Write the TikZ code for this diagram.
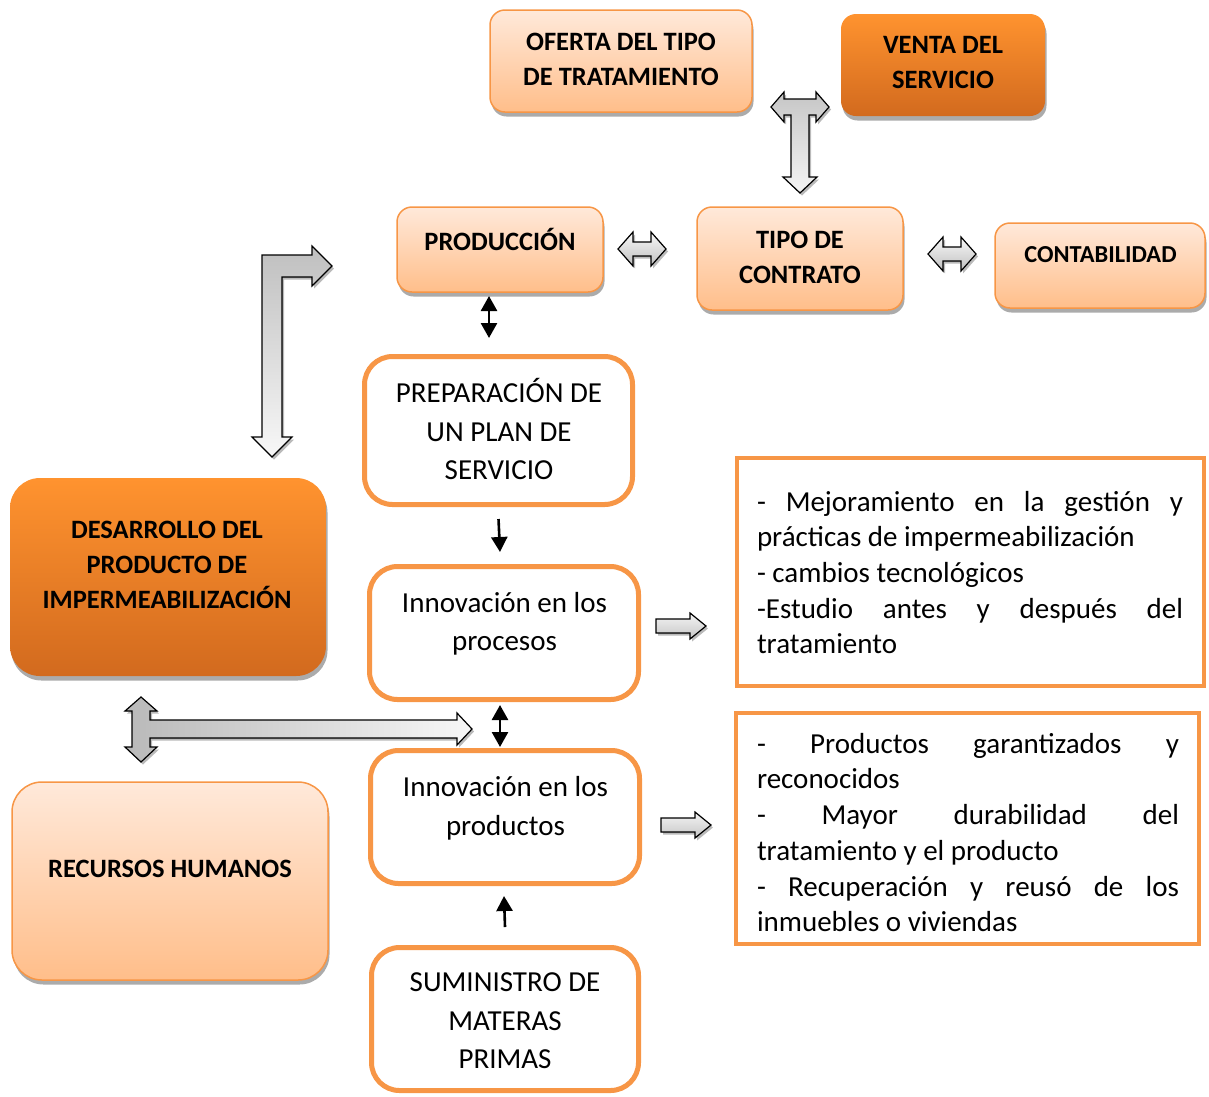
\documentclass[tikz,border=0pt]{standalone}
\usepackage{fontspec}
\setmainfont{Carlito}
\usetikzlibrary{shadows,arrows.meta}

\definecolor{orline}{HTML}{F79646}
\definecolor{ltop}{HTML}{FFE9DA}
\definecolor{lbot}{HTML}{FFBE8A}
\definecolor{dtop}{HTML}{FF932F}
\definecolor{dbot}{HTML}{D26A1E}

\tikzset{
  boxshadow/.style={drop shadow={shadow xshift=1.5pt,shadow yshift=-4.5pt,opacity=.55,fill=black!60}},
  lightbox/.style={draw=orline,line width=1.5pt,rounded corners=15pt,
    top color=ltop,bottom color=lbot,boxshadow,inner sep=0pt},
  darkbox/.style={draw=none,rounded corners=30pt,
    top color=dtop,bottom color=dbot,boxshadow,inner sep=0pt},
  lightbig/.style={lightbox,rounded corners=30pt},
  whitebox/.style={draw=orline,line width=5pt,rounded corners=28pt,fill=white,inner sep=0pt},
  listbox/.style={draw=orline,line width=4pt,fill=white,inner sep=0pt},
  btext/.style={font=\bfseries\fontsize{26.5}{35}\selectfont,align=center,inner sep=0pt},
  ntext/.style={font=\fontsize{29}{38.5}\selectfont,align=center,inner sep=0pt},
  jtext/.style={font={\fontsize{29}{35.7}\selectfont\parindent=0pt\tolerance=10000\hyphenpenalty=10000\exhyphenpenalty=10000},
    align=justify,inner sep=0pt},
  gblock/.style={draw=black,line width=1.2pt,line join=miter,
    drop shadow={shadow xshift=2pt,shadow yshift=-2.5pt,opacity=.45,fill=black!60}},
  blk/.style={line width=2.6pt,>={Triangle[width=16pt,length=15pt]}}
}

\begin{document}
\begin{tikzpicture}[x=1pt,y=-1pt]
\useasboundingbox (0,0) rectangle (1209,1096);

% upper row of shaded boxes
\node[lightbox,minimum width=262pt,minimum height=102pt] (oferta) at (621,61) {};
\node[btext] (ofertat) at (621,59) {OFERTA DEL TIPO\\DE TRATAMIENTO};
\node[darkbox,rounded corners=15pt,minimum width=204pt,minimum height=102pt] (venta) at (943,65) {};
\node[btext] (ventat) at (943,62) {VENTA DEL\\SERVICIO};

\node[lightbox,minimum width=206pt,minimum height=85pt] (prod) at (500,249.5) {};
\node[btext] (prodt) at (500,239) {PRODUCCIÓN};
\node[lightbox,minimum width=206pt,minimum height=103pt] (tipo) at (800,258.5) {};
\node[btext] (tipot) at (800,257) {TIPO DE\\CONTRATO};
\node[lightbox,minimum width=210pt,minimum height=85pt] (conta) at (1100,265.5) {};
\node[btext,font=\bfseries\fontsize{24.4}{35}\selectfont] (contat) at (1100.5,255) {CONTABILIDAD};

% left column
\node[darkbox,minimum width=316pt,minimum height=198pt] (desa) at (168,577) {};
\node[btext] (desat) at (167,565) {DESARROLLO DEL\\PRODUCTO DE\\IMPERMEABILIZACIÓN};
\node[lightbig,minimum width=316pt,minimum height=198pt] (recur) at (170,881) {};
\node[btext] (recurt) at (170,869) {RECURSOS HUMANOS};

% central chain
\node[whitebox,minimum width=268pt,minimum height=148pt] (prep) at (498.5,430.5) {};
\node[ntext] (prept) at (499,429) {PREPARACIÓN DE\\UN PLAN DE\\SERVICIO};
\node[whitebox,minimum width=269pt,minimum height=133pt] (proc) at (504,633) {};
\node[ntext] (proct) at (504.5,624) {Innovación en los\\procesos};
\node[whitebox,minimum width=269pt,minimum height=133pt] (prodn) at (505,817) {};
\node[ntext] (prodnt) at (505.5,808.5) {Innovación en los\\productos};
\node[whitebox,minimum width=267pt,minimum height=143pt] (sum) at (505,1019) {};
\node[ntext] (sumt) at (505,1021) {SUMINISTRO DE\\MATERAS\\PRIMAS};

% result lists
\node[listbox,minimum width=467pt,minimum height=228pt] (res1) at (970.5,572) {};
\node[jtext,text width=426pt] (res1t) at (970,572.5) {- Mejoramiento en la gestión y\linebreak prácticas de impermeabilización\par
- cambios tecnológicos\par
-Estudio antes y después del\linebreak tratamiento};
\node[listbox,minimum width=463pt,minimum height=231pt] (res2) at (967.5,828.5) {};
\node[jtext,text width=422pt] (res2t) at (968,832.5) {- Productos garantizados y\linebreak reconocidos\par
- Mayor durabilidad del\linebreak tratamiento y el producto\par
- Recuperación y reusó de los\linebreak inmuebles o viviendas};

% thin black connectors
\coordinate (a1) at (489,296);
\coordinate (a2) at (489,338);
\coordinate (b1) at (498.5,519);
\coordinate (b2) at (500,552);
\coordinate (c1) at (500,705);
\coordinate (c2) at (500,747);
\coordinate (d1) at (505,927);
\coordinate (d2) at (504,896);
\draw[blk,<->] (a1) -- (a2);
\draw[blk,->] (b1) -- (b2);
\draw[blk,<->] (c1) -- (c2);
\draw[blk,->] (d1) -- (d2);

% grey block arrows
% venta / oferta <-> tipo de contrato
\filldraw[gblock,top color=gray!45,bottom color=gray!8]
  (771,107) -- (784,92) -- (784,99) -- (816,99) -- (816,92) -- (829,107)
  -- (816,122) -- (816,115) -- (809,115) -- (809,177) -- (817,177)
  -- (800,193) -- (783,177) -- (791,177) -- (791,115) -- (784,115)
  -- (784,122) -- cycle;
% produccion <-> tipo de contrato
\filldraw[gblock,top color=gray!5,bottom color=gray!50]
  (618,249) -- (633,232) -- (633,242) -- (651,242) -- (651,232) -- (666,249)
  -- (651,266) -- (651,256) -- (633,256) -- (633,266) -- cycle;
% tipo de contrato <-> contabilidad
\filldraw[gblock,top color=gray!5,bottom color=gray!50]
  (928,254) -- (943,237) -- (943,247) -- (961,247) -- (961,237) -- (976,254)
  -- (961,271) -- (961,261) -- (943,261) -- (943,271) -- cycle;
% desarrollo <-> produccion (bent)
\filldraw[gblock,top color=gray!50,bottom color=gray!6]
  (262,255) -- (312,255) -- (312,246) -- (332,266) -- (312,286) -- (312,277)
  -- (282,277) -- (282,437) -- (292,437) -- (272,457) -- (252,437)
  -- (262,437) -- cycle;
% desarrollo / recursos -> innovacion
\filldraw[gblock,left color=gray!55,right color=gray!6]
  (141,697) -- (157,711) -- (150,711) -- (150,720) -- (457,720) -- (457,713)
  -- (472,729) -- (457,745) -- (457,738) -- (150,738) -- (150,747)
  -- (157,747) -- (141,762) -- (125,747) -- (132,747) -- (132,711)
  -- (125,711) -- cycle;
% innovacion -> listas
\filldraw[gblock,top color=gray!8,bottom color=gray!45]
  (656,619) -- (690,619) -- (690,613) -- (706,626) -- (690,639) -- (690,633)
  -- (656,633) -- cycle;
\filldraw[gblock,top color=gray!8,bottom color=gray!45]
  (661,818) -- (695,818) -- (695,812) -- (711,825) -- (695,838) -- (695,832)
  -- (661,832) -- cycle;
\end{tikzpicture}
\end{document}
